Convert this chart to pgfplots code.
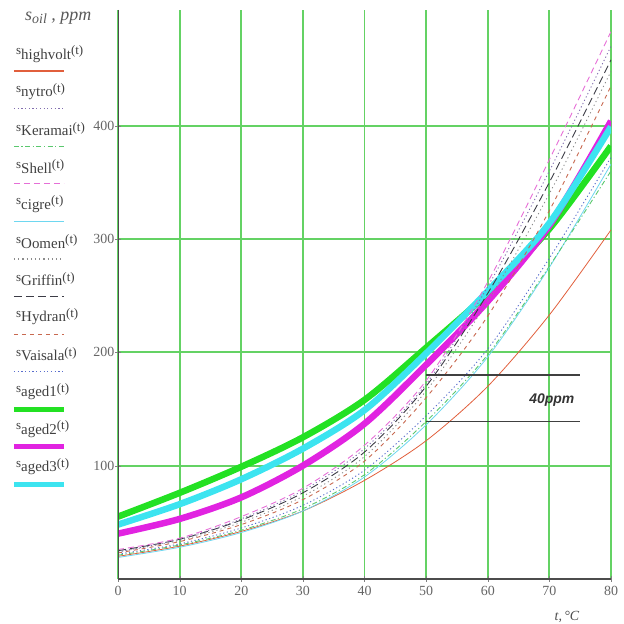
\documentclass[border=0pt]{standalone}
\usepackage{fontspec}
\setmainfont{Liberation Serif}
\newfontfamily\arialf{Liberation Sans}
\usepackage{pgfplots}
\pgfplotsset{compat=1.18}

\definecolor{gridgreen}{RGB}{100,210,100}
\definecolor{agedone}{RGB}{35,225,35}
\definecolor{agedtwo}{RGB}{225,35,225}
\definecolor{agedthree}{RGB}{60,228,240}
\definecolor{chv}{RGB}{225,95,60}
\definecolor{cny}{RGB}{130,110,175}
\definecolor{cke}{RGB}{90,200,110}
\definecolor{csh}{RGB}{230,110,215}
\definecolor{cci}{RGB}{110,215,240}
\definecolor{coo}{RGB}{140,140,140}
\definecolor{cgr}{RGB}{60,60,70}
\definecolor{chy}{RGB}{200,105,80}
\definecolor{cva}{RGB}{90,110,205}

\tikzset{
  st hv/.style={chv, line width=0.8bp},
  st ny/.style={cny, line width=0.9bp, dash pattern=on 1.2bp off 2.5bp},
  st ke/.style={cke, line width=0.9bp, dash pattern=on 5bp off 2.5bp on 1.2bp off 2.5bp},
  st sh/.style={csh, line width=0.9bp, dash pattern=on 6bp off 4bp},
  st ci/.style={cci, line width=0.8bp},
  st oo/.style={coo, line width=0.9bp, dash pattern=on 1.2bp off 3bp},
  st gr/.style={cgr, line width=0.9bp, dash pattern=on 8bp off 4bp},
  st hy/.style={chy, line width=0.9bp, dash pattern=on 4bp off 4bp},
  st va/.style={cva, line width=0.9bp, dash pattern=on 1.2bp off 2.5bp},
  st a1/.style={agedone, line width=6.5bp},
  st a2/.style={agedtwo, line width=6.5bp},
  st a3/.style={agedthree, line width=6.5bp},
}

% legend entry: index, subscript, line style
\newcommand{\lent}[3]{%
  \node[anchor=west, inner sep=0pt, text=black!75] at (-102bp, {(525-37.5*#1)*1bp})
    {\fontsize{13}{13}\selectfont s\raisebox{-4.5bp}{\fontsize{15}{15}\selectfont #2}(t)};
  \draw[#3] (-104bp, {(508-37.6*#1)*1bp}) -- (-54bp, {(508-37.6*#1)*1bp});
}

\begin{document}
\begin{tikzpicture}
\useasboundingbox (-118bp,-45bp) rectangle (506bp,579bp);
\begin{axis}[
  at={(0bp,0bp)}, anchor=south west,
  scale only axis, width=493bp, height=569bp,
  xmin=0, xmax=80, ymin=0, ymax=502,
  axis lines*=left,
  axis line style={black!70, line width=1bp},
  xtick={0,10,...,80}, ytick={100,200,300,400},
  grid=major, major grid style={gridgreen, line width=1.9bp},
  tick align=center, major tick length=5bp,
  /pgf/number format/assume math mode=true,
  ticklabel style={font=\fontsize{14}{14}\selectfont, text=black!60},
  xticklabel style={yshift=-1bp},
  yticklabel style={inner sep=1bp},
]
% aged oils (thick)
\addplot[st a1, smooth] coordinates {(0,55) (10,76) (20,99) (30,125) (40,158) (50,204) (60,252) (70,309) (80,382)};
\addplot[st a2, smooth] coordinates {(0,40) (10,53) (20,72) (30,100) (40,137) (50,189) (60,245) (70,312) (80,404)};
\addplot[st a3, smooth] coordinates {(0,48) (10,66) (20,88) (30,115) (40,149) (50,199) (60,254) (70,314) (80,399)};
% new oils (thin)
\addplot[st hv, smooth] coordinates {(0,20) (10,29) (20,42) (30,60) (40,87) (50,122) (60,170) (70,233) (80,308)};
\addplot[st ci, smooth] coordinates {(0,19) (10,28) (20,41) (30,60) (40,90) (50,136) (60,196) (70,275) (80,366)};
\addplot[st ke, smooth] coordinates {(0,21) (10,30) (20,43) (30,62) (40,92) (50,139) (60,198) (70,276) (80,360)};
\addplot[st va, smooth] coordinates {(0,22) (10,31) (20,45) (30,65) (40,96) (50,144) (60,203) (70,283) (80,372)};
\addplot[st hy, smooth] coordinates {(0,23) (10,33) (20,48) (30,70) (40,104) (50,160) (60,232) (70,325) (80,435)};
\addplot[st oo, smooth] coordinates {(0,24) (10,34) (20,50) (30,73) (40,108) (50,166) (60,245) (70,340) (80,448)};
\addplot[st gr, smooth] coordinates {(0,25) (10,35) (20,52) (30,76) (40,112) (50,170) (60,252) (70,350) (80,458)};
\addplot[st ny, smooth] coordinates {(0,24) (10,35) (20,53) (30,78) (40,115) (50,172) (60,258) (70,360) (80,470)};
\addplot[st sh, smooth] coordinates {(0,26) (10,36) (20,55) (30,80) (40,118) (50,175) (60,262) (70,370) (80,483)};
% axis lines over the grid
\draw[black!70, line width=1.2bp] (rel axis cs:0,1) -- (rel axis cs:0,0) -- (rel axis cs:1,0);
% 40 ppm marker
\draw[black!75, line width=1.1bp] (axis cs:50,180) -- (axis cs:75,180);
\draw[black!75, line width=1.1bp] (axis cs:50,139) -- (axis cs:75,139);
\node[text=black!80, font=\arialf\bfseries\itshape\fontsize{14}{14}\selectfont] at (axis cs:70.4,158) {40ppm};
\end{axis}
% title and x label
\node[anchor=west, inner sep=0pt, text=black!65] at (-93bp,561bp)
  {\fontsize{18}{18}\selectfont\itshape s\raisebox{-3.5bp}{\fontsize{14}{14}\selectfont oil}\ ,\ ppm};
\node[text=black!70] at (449bp,-38bp) {\fontsize{14}{14}\selectfont\itshape t,\,°C};
% legend
\lent{0}{highvolt}{st hv, line width=1.3bp}
\lent{1}{nytro}{st ny, line width=1.3bp}
\lent{2}{Keramai}{st ke, line width=1.3bp}
\lent{3}{Shell}{st sh, line width=1.3bp}
\lent{4}{cigre}{st ci, line width=1.5bp}
\lent{5}{Oomen}{st oo, line width=1.3bp}
\lent{6}{Griffin}{st gr, line width=1.3bp}
\lent{7}{Hydran}{st hy, line width=1.3bp}
\lent{8}{Vaisala}{st va, line width=1.3bp}
\lent{9}{aged1}{agedone, line width=5bp}
\lent{10}{aged2}{agedtwo, line width=5bp}
\lent{11}{aged3}{agedthree, line width=5bp}
\end{tikzpicture}
\end{document}
